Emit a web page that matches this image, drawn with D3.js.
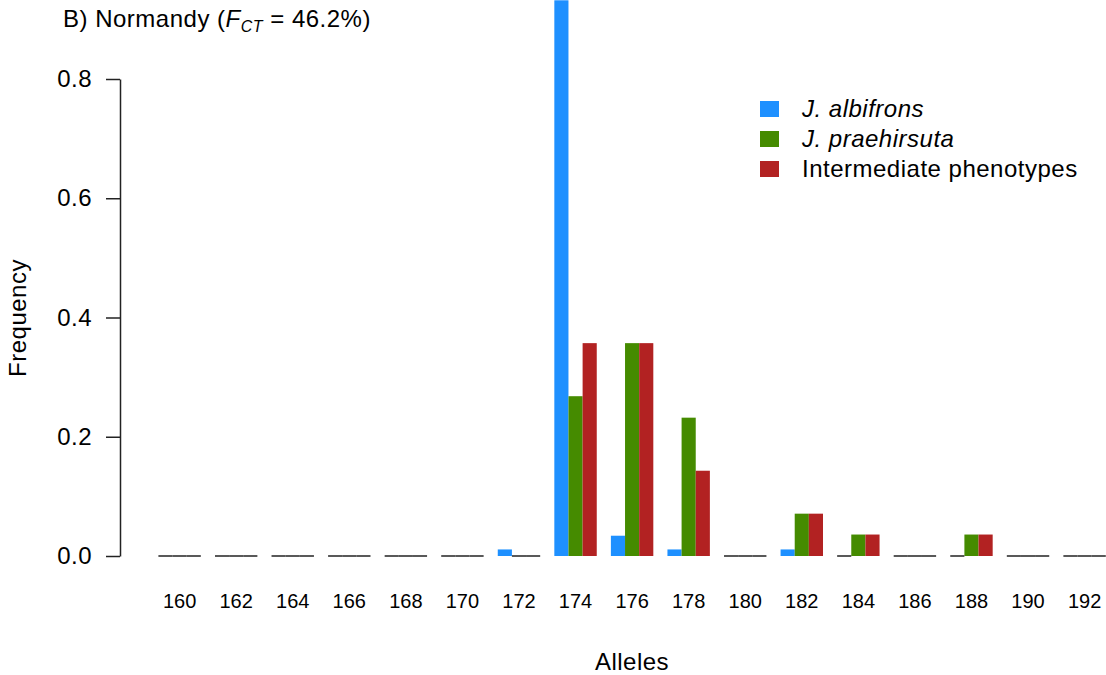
<!DOCTYPE html>
<html>
<head>
<meta charset="utf-8">
<script src="https://d3js.org/d3.v7.min.js"></script>
<style>
  html, body { margin: 0; padding: 0; background: #fff; }
  svg { display: block; font-family: "Liberation Sans", Arial, Helvetica, sans-serif; }
  .big { font-size: 24px; letter-spacing: 0.5px; }
</style>
</head>
<body>
<svg id="chart" width="1106" height="675"></svg>
<script>
// ---- data ----
const alleles = ["160","162","164","166","168","170","172","174","176","178","180","182","184","186","188","190","192"];
const seriesNames = ["J. albifrons", "J. praehirsuta", "Intermediate phenotypes"];
const albifrons   = [0, 0, 0, 0, 0, 0, 0.011, 0.932, 0.034, 0.011, 0, 0.011, 0, 0, 0, 0, 0];
const praehirsuta = [0, 0, 0, 0, 0, 0, 0, 0.268, 0.357, 0.232, 0, 0.071, 0.036, 0, 0.036, 0, 0];
const intermediate= [0, 0, 0, 0, 0, 0, 0, 0.357, 0.357, 0.143, 0, 0.071, 0.036, 0, 0.036, 0, 0];
const yTicks = [0, 0.2, 0.4, 0.6, 0.8];
const colors = ["#1E90FF", "#458B00", "#B22222"];

const seriesValues = [albifrons, praehirsuta, intermediate];

const svg = d3.select("#chart");

const x = d3.scaleBand().domain(alleles).range([158.4, 1105.8]).paddingInner(0.25).paddingOuter(0);
const xs = d3.scaleBand().domain(seriesNames).range([0, x.bandwidth()]).padding(0);
const y = d3.scaleLinear().domain([0, 0.8]).range([556, 79]);

// bars
const flat = [];
alleles.forEach((a, i) => {
  seriesNames.forEach((s, j) => flat.push({allele: a, series: s, value: seriesValues[j][i], color: colors[j]}));
});

const g = svg.append("g");
g.selectAll("rect.bar").data(flat.filter(d => d.value > 0)).join("rect")
  .attr("class", "bar")
  .attr("x", d => x(d.allele) + xs(d.series))
  .attr("width", xs.bandwidth())
  .attr("y", d => y(d.value))
  .attr("height", d => y(0) - y(d.value))
  .attr("fill", d => d.color);

g.selectAll("line.zero").data(flat.filter(d => d.value === 0)).join("line")
  .attr("class", "zero")
  .attr("x1", d => x(d.allele) + xs(d.series))
  .attr("x2", d => x(d.allele) + xs(d.series) + xs.bandwidth())
  .attr("y1", y(0)).attr("y2", y(0))
  .attr("stroke", "#222").attr("stroke-width", 1.5);

// y axis
const yAxis = d3.axisLeft(y).tickValues(yTicks).tickFormat(d3.format(".1f")).tickSize(14).tickSizeOuter(0).tickPadding(14);
const ya = svg.append("g").attr("transform", "translate(120,0)").call(yAxis);
ya.select(".domain").attr("stroke", "#222").attr("stroke-width", 1.5);
ya.selectAll(".tick line").attr("stroke", "#222").attr("stroke-width", 1.5);
ya.selectAll(".tick text").attr("class", "big").attr("font-size", null).attr("fill", "#000").attr("font-family", "Liberation Sans, Arial, sans-serif");

// x labels
const xa = svg.append("g").attr("transform", "translate(0,556)")
  .call(d3.axisBottom(x).tickSize(0).tickPadding(38));
xa.select(".domain").remove();
xa.selectAll(".tick text").attr("font-size", 20).attr("fill", "#000").attr("font-family", "Liberation Sans, Arial, sans-serif");

// axis titles
svg.append("text").attr("class", "big").attr("x", 632).attr("y", 670).attr("text-anchor", "middle").text("Alleles");
svg.append("text").attr("class", "big").attr("transform", "translate(26,318) rotate(-90)").attr("text-anchor", "middle").text("Frequency");

// title
const t = svg.append("text").attr("class", "big").attr("x", 63).attr("y", 27);
t.append("tspan").text("B) Normandy (");
t.append("tspan").attr("font-style", "italic").text("F");
t.append("tspan").attr("font-style", "italic").attr("font-size", 16).attr("dy", 5).text("CT");
t.append("tspan").attr("dy", -5).text(" = 46.2%)");

// legend
const leg = svg.append("g");
seriesNames.forEach((s, j) => {
  const cy = 109 + j * 30;
  leg.append("rect").attr("x", 760).attr("y", cy - 8).attr("width", 19).attr("height", 16).attr("fill", colors[j]);
  leg.append("text").attr("class", "big").attr("x", 802).attr("y", cy + 8)
    .attr("font-style", j < 2 ? "italic" : "normal").text(s);
});
</script>
</body>
</html>
